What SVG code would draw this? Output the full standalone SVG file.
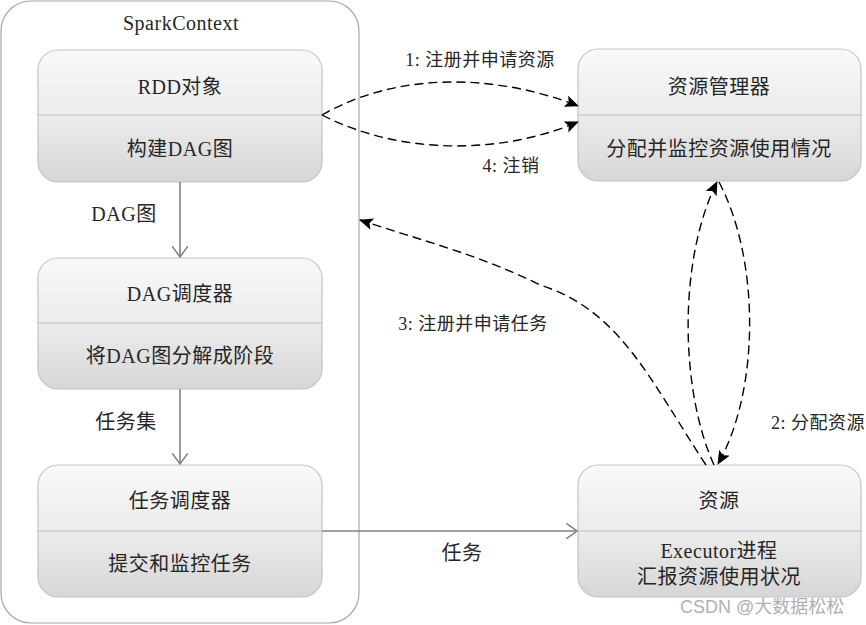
<svg xmlns="http://www.w3.org/2000/svg" width="866" height="625" viewBox="0 0 866 625">
<defs>
<linearGradient id="g" x1="0" y1="0" x2="0" y2="1">
<stop offset="0" stop-color="#f9f9f9"/>
<stop offset="0.5" stop-color="#ececec"/>
<stop offset="1" stop-color="#d6d6d6"/>
</linearGradient>
<marker id="open" viewBox="0 0 12 16" refX="11" refY="8" markerWidth="12" markerHeight="16" markerUnits="userSpaceOnUse" orient="auto">
<path d="M0,0 L11,8 L0,16" fill="none" stroke="#808080" stroke-width="1.5"/>
</marker>
<marker id="solid" viewBox="0 0 14 12" refX="13" refY="6" markerWidth="14" markerHeight="12" markerUnits="userSpaceOnUse" orient="auto">
<path d="M0,0 L14,6 L0,12 L3,6 Z" fill="#000"/>
</marker>
</defs>
<style>
text{font-family:"Liberation Serif","Noto Sans CJK SC",serif;font-size:20px;fill:#262626;text-anchor:middle;letter-spacing:0.5px}
.box{fill:url(#g);stroke:#c4c4c4;stroke-width:1.2}
.div{stroke:#bdbdbd;stroke-width:1.2}
.flow{fill:none;stroke:#808080;stroke-width:1.6}
.dash{fill:none;stroke:#000;stroke-width:1.4;stroke-dasharray:9,5}
.lbl{font-size:18px}
.wm{font-family:"Liberation Sans","Noto Sans CJK SC",sans-serif;font-size:18px;fill:#b0b0b0;text-anchor:start;letter-spacing:0}
</style>
<g id="sparkcontext">
<rect x="1" y="1" width="358" height="622" rx="30" fill="#fff" stroke="#a8a8a8" stroke-width="1.2"/>
<text x="181" y="30">SparkContext</text>
</g>
<g id="rdd">
<rect class="box" x="38" y="50" width="284" height="132" rx="20"/>
<line class="div" x1="38" y1="115" x2="322" y2="115"/>
<text x="180" y="94">RDD对象</text>
<text x="180" y="156">构建DAG图</text>
</g>
<g id="dagscheduler">
<rect class="box" x="38" y="258" width="284" height="131" rx="20"/>
<line class="div" x1="38" y1="323" x2="322" y2="323"/>
<text x="180" y="301">DAG调度器</text>
<text x="180" y="363">将DAG图分解成阶段</text>
</g>
<g id="taskscheduler">
<rect class="box" x="38" y="465" width="284" height="132" rx="20"/>
<line class="div" x1="38" y1="531" x2="322" y2="531"/>
<text x="180" y="508">任务调度器</text>
<text x="180" y="571">提交和监控任务</text>
</g>
<g id="resourcemanager">
<rect class="box" x="578" y="49" width="283" height="132" rx="20"/>
<line class="div" x1="578" y1="115" x2="861" y2="115"/>
<text x="719" y="94">资源管理器</text>
<text x="719" y="156">分配并监控资源使用情况</text>
</g>
<g id="resource">
<rect class="box" x="578" y="465" width="283" height="132" rx="20"/>
<line class="div" x1="578" y1="531" x2="861" y2="531"/>
<text x="719" y="508">资源</text>
<text x="719" y="558">Executor进程</text>
<text x="719" y="584">汇报资源使用状况</text>
</g>
<g id="connectors">
<line class="flow" x1="180" y1="182" x2="180" y2="257" marker-end="url(#open)"/>
<line class="flow" x1="180" y1="389" x2="180" y2="464" marker-end="url(#open)"/>
<line class="flow" x1="322" y1="531" x2="577" y2="531" marker-end="url(#open)"/>
<path class="dash" d="M322,115 C400,70 500,75 578,106" marker-end="url(#solid)"/>
<path class="dash" d="M322,115 C400,155 500,155 578,122" marker-end="url(#solid)"/>
<path class="dash" d="M706,465 C650,380 620,310 540,285 C480,255 420,240 360,220" marker-end="url(#solid)"/>
<path class="dash" d="M714,465 C680,390 678,260 717,182" marker-end="url(#solid)"/>
<path class="dash" d="M719,182 C760,260 760,390 718,464" marker-end="url(#solid)"/>
<text class="lbl" x="480" y="66">1: 注册并申请资源</text>
<text class="lbl" x="511" y="172">4: 注销</text>
<text class="lbl" x="473" y="330">3: 注册并申请任务</text>
<text class="lbl" x="818" y="429">2: 分配资源</text>
<text x="124" y="221">DAG图</text>
<text x="126" y="429">任务集</text>
<text x="462" y="560">任务</text>
</g>
<text class="wm" x="680" y="613">CSDN @大数据松松</text>
</svg>
